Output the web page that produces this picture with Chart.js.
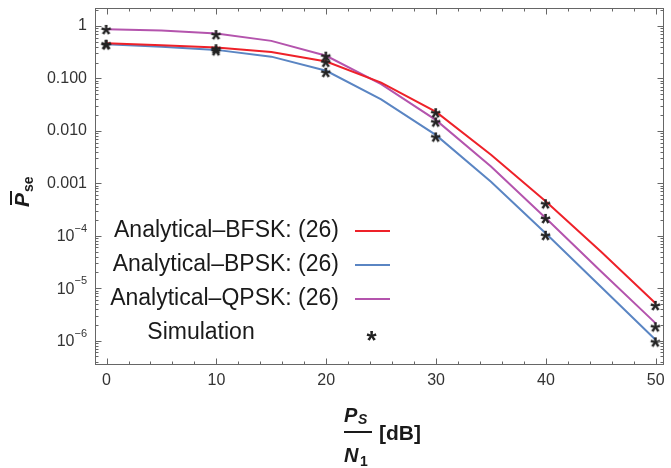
<!DOCTYPE html>
<html>
<head>
<meta charset="utf-8">
<script src="https://cdn.jsdelivr.net/npm/chart.js@4.4.1/dist/chart.umd.min.js"></script>
<style>
  html, body { margin: 0; padding: 0; background: #fff; }
  #wrap { width: 671px; height: 468px; position: relative; }
</style>
</head>
<body>
<div id="wrap"><canvas id="c" width="671" height="468"></canvas></div>
<script>
// ---- data ----
const xAnalytical = [0, 5, 10, 15, 20, 25, 30, 35, 40, 45, 50];
const bfsk = [0.47, 0.43, 0.39, 0.32, 0.21, 0.083, 0.023, 0.0035, 4.5e-4, 5.0e-5, 5.1e-6];
const bpsk = [0.45, 0.40, 0.35, 0.26, 0.14, 0.040, 0.0083, 0.00107, 1.11e-4, 1.07e-5, 1.03e-6];
const qpsk = [0.87, 0.82, 0.72, 0.52, 0.27, 0.078, 0.016, 0.0021, 2.15e-4, 2.1e-5, 2.14e-6];

const xSim = [0, 10, 20, 30, 40, 50];
const simBFSK = [0.44, 0.36, 0.20, 0.0217, 4.0e-4, 4.6e-6];
const simBPSK = [0.43, 0.33, 0.128, 0.0075, 1.0e-4, 9.3e-7];
const simQPSK = [0.84, 0.67, 0.26, 0.0145, 2.1e-4, 1.8e-6];

const xTickValues = [0, 10, 20, 30, 40, 50];
const yTickValues = [1, 0.1, 0.01, 0.001, 1e-4, 1e-5, 1e-6];
const yTickLabels = ['1', '0.100', '0.010', '0.001', '10^\u22124', '10^\u22125', '10^\u22126'];

const legendLabels = ['Analytical\u2013BFSK: (26)', 'Analytical\u2013BPSK: (26)', 'Analytical\u2013QPSK: (26)', 'Simulation'];
const colors = { bfsk: '#ee2129', bpsk: '#5a85c3', qpsk: '#b454ad' };

const pts = (xs, ys) => xs.map((x, i) => ({ x: x, y: ys[i] }));

// asterisk marker
function makeStar(px) {
  const size = 16;
  const c = document.createElement('canvas');
  c.width = size; c.height = size;
  const g = c.getContext('2d');
  g.fillStyle = '#222';
  g.font = 'bold ' + px + 'px "Liberation Sans", Arial, sans-serif';
  const m = g.measureText('*');
  const w = m.actualBoundingBoxRight + m.actualBoundingBoxLeft;
  const h = m.actualBoundingBoxAscent + m.actualBoundingBoxDescent;
  g.fillText('*', (size - w) / 2 + m.actualBoundingBoxLeft, (size - h) / 2 + m.actualBoundingBoxAscent);
  return c;
}
const star = makeStar(26);

const FONT = '"Liberation Sans", Arial, sans-serif';

const decor = {
  id: 'decor',
  afterDraw(chart) {
    const ctx = chart.ctx;
    const a = chart.chartArea;
    const xs = chart.scales.x, ys = chart.scales.y;
    ctx.save();
    // frame
    ctx.strokeStyle = '#666';
    ctx.lineWidth = 1;
    ctx.strokeRect(a.left + 0.5, a.top + 0.5, a.right - a.left - 1, a.bottom - a.top - 1);
    // x ticks (inward, bottom & top)
    ctx.beginPath();
    for (let v = 0; v <= 50; v += 2) {
      const px = Math.round(xs.getPixelForValue(v)) + 0.5;
      const len = (v % 10 === 0) ? 6.5 : 3.5;
      ctx.moveTo(px, a.bottom); ctx.lineTo(px, a.bottom - len);
      ctx.moveTo(px, a.top); ctx.lineTo(px, a.top + len);
    }
    // y ticks (inward, left & right)
    for (let e = -7; e <= 0; e++) {
      for (let k = 1; k <= 9; k++) {
        const v = k * Math.pow(10, e);
        if (v < ys.min || v > ys.max) continue;
        const py = Math.round(ys.getPixelForValue(v)) + 0.5;
        const len = (k === 1) ? 6.5 : 3.5;
        ctx.moveTo(a.left, py); ctx.lineTo(a.left + len, py);
        ctx.moveTo(a.right, py); ctx.lineTo(a.right - len, py);
      }
    }
    ctx.stroke();

    // x tick labels
    ctx.fillStyle = '#333';
    ctx.font = '16px ' + FONT;
    ctx.textAlign = 'center';
    ctx.textBaseline = 'middle';
    xTickValues.forEach(v => ctx.fillText(String(v), xs.getPixelForValue(v), a.bottom + 16));

    // y tick labels
    const rx = a.left - 8;
    yTickLabels.forEach((lab, i) => {
      const py = ys.getPixelForValue(yTickValues[i]);
      if (lab.indexOf('^') >= 0) {
        const parts = lab.split('^');
        ctx.font = '11px ' + FONT;
        const w2 = ctx.measureText(parts[1]).width;
        ctx.textAlign = 'left';
        ctx.fillText(parts[1], rx - w2, py - 7);
        ctx.font = '16px ' + FONT;
        ctx.textAlign = 'right';
        ctx.fillText(parts[0], rx - w2, py + 1);
      } else {
        ctx.font = '16px ' + FONT;
        ctx.textAlign = 'right';
        ctx.fillText(lab, rx, py);
      }
    });

    // legend
    ctx.fillStyle = '#1a1a1a';
    ctx.font = '23px ' + FONT;
    ctx.textBaseline = 'middle';
    const rowY = [231, 265, 299, 336];
    const lineCols = [colors.bfsk, colors.bpsk, colors.qpsk];
    for (let i = 0; i < 3; i++) {
      ctx.textAlign = 'right';
      ctx.fillText(legendLabels[i], 339, rowY[i]);
      ctx.strokeStyle = lineCols[i];
      ctx.lineWidth = 2;
      ctx.beginPath();
      ctx.moveTo(355, rowY[i]); ctx.lineTo(390, rowY[i]);
      ctx.stroke();
    }
    ctx.textAlign = 'center';
    ctx.fillText(legendLabels[3], 201, rowY[3] - 3);
    ctx.drawImage(star, 372 - star.width / 2, rowY[3] - star.height / 2);

    // y axis title: overline P, subscript se (rotated)
    ctx.save();
    ctx.translate(29, 190);
    ctx.rotate(-Math.PI / 2);
    ctx.fillStyle = '#1a1a1a';
    ctx.textAlign = 'left';
    ctx.textBaseline = 'alphabetic';
    ctx.font = 'italic bold 21px ' + FONT;
    const pw = ctx.measureText('P').width;
    const startU = -17;
    ctx.fillText('P', startU, 0);
    ctx.fillRect(startU + 2, -19, pw, 2);
    ctx.font = 'bold 14px ' + FONT;
    ctx.fillText('se', startU + pw + 1, 4);
    ctx.restore();

    // x axis title: P_S / N_1 [dB]
    ctx.fillStyle = '#1a1a1a';
    ctx.textAlign = 'left';
    ctx.textBaseline = 'alphabetic';
    ctx.font = 'italic bold 20px ' + FONT;
    ctx.fillText('P', 344, 422);
    ctx.font = 'italic bold 14px ' + FONT;
    ctx.fillText('S', 358, 424);
    ctx.fillRect(344, 431, 28, 2);
    ctx.font = 'italic bold 20px ' + FONT;
    ctx.fillText('N', 344, 462);
    ctx.font = 'bold 14px ' + FONT;
    ctx.fillText('1', 360, 466);
    ctx.font = 'bold 21px ' + FONT;
    ctx.fillText('[dB]', 379, 440);
    ctx.restore();
  }
};

new Chart(document.getElementById('c'), {
  type: 'line',
  data: {
    datasets: [
      { label: 'simBFSK', data: pts(xSim, simBFSK), showLine: false, pointStyle: star, pointRadius: 6, order: 0 },
      { label: 'simBPSK', data: pts(xSim, simBPSK), showLine: false, pointStyle: star, pointRadius: 6, order: 0 },
      { label: 'simQPSK', data: pts(xSim, simQPSK), showLine: false, pointStyle: star, pointRadius: 6, order: 0 },
      { label: legendLabels[0], data: pts(xAnalytical, bfsk), borderColor: colors.bfsk, borderWidth: 2, pointRadius: 0, tension: 0, order: 1 },
      { label: legendLabels[2], data: pts(xAnalytical, qpsk), borderColor: colors.qpsk, borderWidth: 2, pointRadius: 0, tension: 0, order: 2 },
      { label: legendLabels[1], data: pts(xAnalytical, bpsk), borderColor: colors.bpsk, borderWidth: 2, pointRadius: 0, tension: 0, order: 3 }
    ]
  },
  options: {
    responsive: false,
    animation: false,
    devicePixelRatio: 1,
    layout: { padding: { left: 95, right: 2, top: 8, bottom: 103 } },
    plugins: { legend: { display: false }, tooltip: { enabled: false } },
    scales: {
      x: { type: 'linear', min: -1.05, max: 50.75, display: false },
      y: { type: 'logarithmic', min: 3.44e-7, max: 2.2, display: false }
    }
  },
  plugins: [decor]
});
</script>
</body>
</html>
